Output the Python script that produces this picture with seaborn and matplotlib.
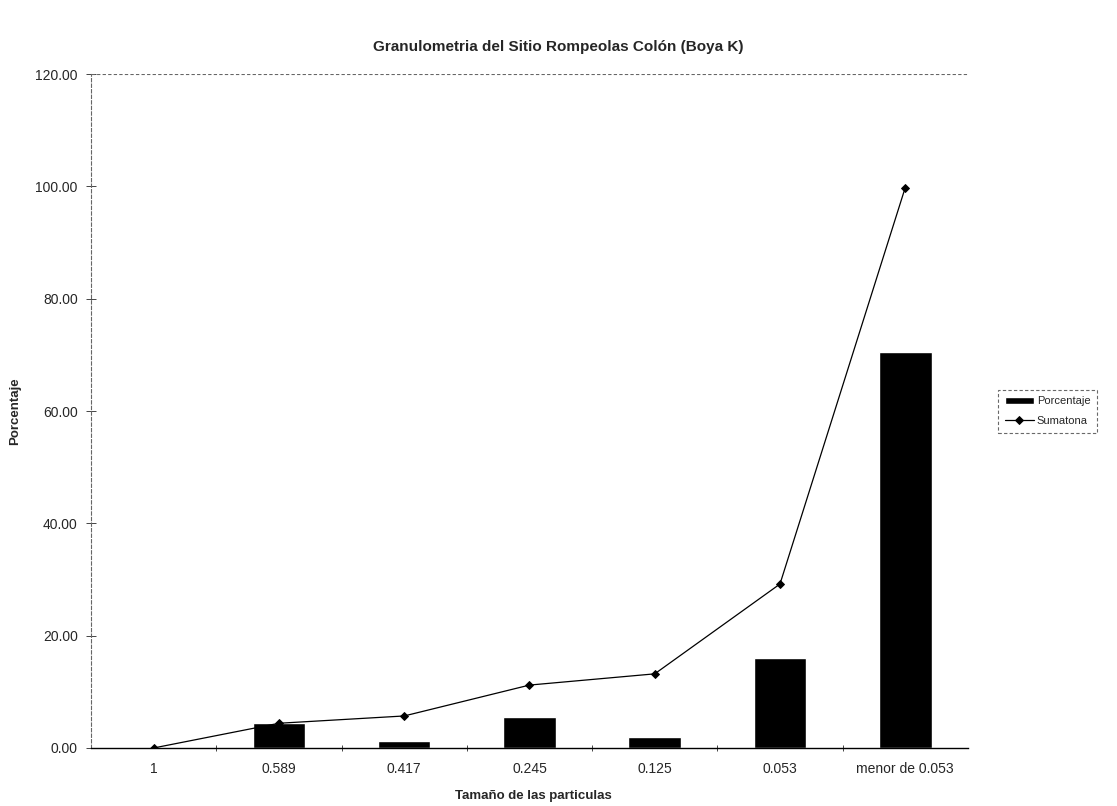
import pandas as pd
import matplotlib
matplotlib.use("Agg")
import matplotlib.pyplot as plt
import seaborn as sns

# ------------------------------
# Data
# ------------------------------
tamanos = ["1", "0.589", "0.417", "0.245", "0.125", "0.053", "menor de 0.053"]
porcentaje = [0.0, 4.4, 1.3, 5.5, 2.0, 16.0, 70.6]
sumatoria = [0.0, 4.4, 5.7, 11.2, 13.2, 29.2, 99.8]
yticks = [0, 20, 40, 60, 80, 100, 120]

df = pd.DataFrame({"tamano": tamanos, "porcentaje": porcentaje, "sumatoria": sumatoria})

sns.set_style("white")
plt.rcParams["font.family"] = ["Liberation Sans", "DejaVu Sans"]

fig = plt.figure(figsize=(11.17, 8.06), dpi=100)
ax = fig.add_axes([0.0815, 0.072, 0.785, 0.836])

sns.barplot(data=df, x="tamano", y="porcentaje", order=tamanos, color="black",
            width=0.42, saturation=1, ax=ax, label="Porcentaje")
sns.pointplot(data=df, x="tamano", y="sumatoria", order=tamanos, color="black",
              markers="D", markersize=4, linewidth=0.9, ax=ax, label="Sumatona")

ax.set_ylim(0, 120)
ax.set_xlim(-0.5, len(tamanos) - 0.5)
ax.set_yticks(yticks)
ax.set_yticklabels([f"{v:.2f}" for v in yticks], fontsize=10)
ax.tick_params(axis="x", labelsize=10, length=0, pad=10)
ax.tick_params(axis="y", left=True, direction="inout", length=7, width=0.7,
               color="#444444", pad=6)
# small ticks at the category boundaries
ax.set_xticks([i + 0.5 for i in range(len(tamanos) - 1)], minor=True)
ax.tick_params(axis="x", which="minor", bottom=True, direction="inout",
               length=5, width=0.7, color="#444444")

ax.axhline(120, color="#666666", lw=0.8, ls=(0, (3, 2)))
for s in ["top", "right"]:
    ax.spines[s].set_visible(False)
ax.spines["left"].set_linestyle((0, (3, 2)))
ax.spines["left"].set_color("#666666")
ax.spines["left"].set_linewidth(0.8)
ax.spines["bottom"].set_color("black")
ax.spines["bottom"].set_linewidth(1.0)

ax.set_xlabel("Tamaño de las particulas", fontsize=9.5, fontweight="bold")
ax.xaxis.set_label_coords(0.505, -0.063)
ax.set_ylabel("Porcentaje", fontsize=9.5, fontweight="bold")
ax.yaxis.set_label_coords(-0.08, 0.5)
fig.suptitle("Granulometria del Sitio Rompeolas Colón (Boya K)", fontsize=11,
             fontweight="bold", y=0.95)

# Porcentaje first, then Sumatona
handles, labels = ax.get_legend_handles_labels()
order = [labels.index("Porcentaje"), labels.index("Sumatona")]
leg = ax.legend([handles[i] for i in order], [labels[i] for i in order],
                loc="upper left", bbox_to_anchor=(1.028, 0.54), fontsize=8,
                frameon=True, fancybox=False, borderpad=0.6, labelspacing=0.9,
                handlelength=2.6, handletextpad=0.3)
leg.get_frame().set_edgecolor("#444444")
leg.get_frame().set_linestyle((0, (3, 2)))
leg.get_frame().set_linewidth(0.8)

fig.savefig("out.png", dpi=100)
